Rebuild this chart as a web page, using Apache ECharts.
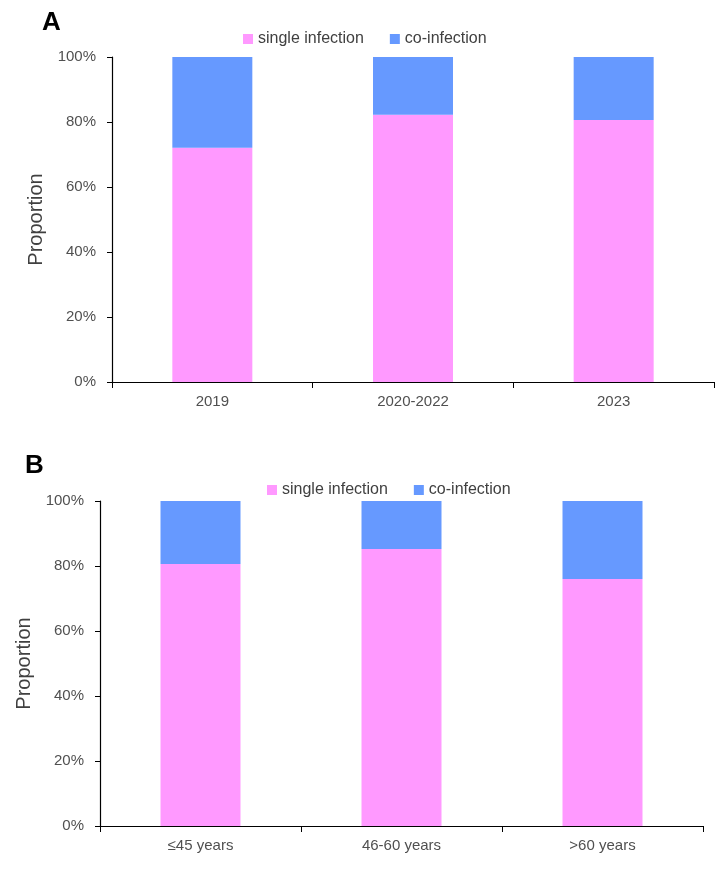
<!DOCTYPE html>
<html>
<head>
<meta charset="utf-8">
<script src="https://cdn.jsdelivr.net/npm/echarts@6/dist/echarts.min.js"></script>
<style>
    html, body { margin: 0; padding: 0; background: #fff; }
    #main { width: 720px; height: 870px; }
</style>
</head>
<body>
<div id="main"></div>
<script>
// panel A: by year
var years = ['2019', '2020-2022', '2023'];
var yearSingle = [72.1, 82.2, 80.6];
var yearCo = [27.9, 17.8, 19.4];

// panel B: by age group
var ages = ['≤45 years', '46-60 years', '>60 years'];
var ageSingle = [80.6, 85.2, 76.0];
var ageCo = [19.4, 14.8, 24.0];

var yTicks = [0, 20, 40, 60, 80, 100];

var pink = '#ff99ff';
var blue = '#6699ff';
var font = 'Liberation Sans';

var chart = (function () {
    var Return = {
        init: function () {
            var myChart = echarts.init(document.getElementById('main'));
            myChart.setOption(buildOption());
        }
    }
    var catAxis = function (idx, data) {
        return {
            type: 'category',
            gridIndex: idx,
            data: data,
            axisLine: { lineStyle: { color: '#000', width: 1.2 } },
            axisTick: { show: true, length: 6, lineStyle: { color: '#000' } },
            axisLabel: { color: '#505050', fontSize: 15, fontFamily: font, margin: 12 }
        };
    }
    var valAxis = function (idx) {
        return {
            type: 'value',
            gridIndex: idx,
            min: yTicks[0],
            max: yTicks[yTicks.length - 1],
            interval: yTicks[1] - yTicks[0],
            name: 'Proportion',
            nameLocation: 'middle',
            nameGap: 64,
            nameTextStyle: { color: '#404040', fontSize: 20, fontFamily: font },
            axisLine: { show: true, lineStyle: { color: '#000', width: 1.2 } },
            axisTick: { show: true, length: 5, lineStyle: { color: '#000' } },
            axisLabel: { color: '#505050', fontSize: 15, fontFamily: font, margin: 16,
                formatter: function (v) { return v + '%'; } },
            splitLine: { show: false }
        };
    }
    var bar = function (name, data, idx, color) {
        return {
            name: name,
            type: 'bar',
            stack: 'p' + idx,
            xAxisIndex: idx,
            yAxisIndex: idx,
            barWidth: 80,
            data: data,
            itemStyle: { color: color }
        };
    }
    var legend = function (left, top) {
        return {
            left: left,
            top: top,
            itemWidth: 10,
            itemHeight: 10,
            itemGap: 26,
            icon: 'rect',
            textStyle: { color: '#404040', fontSize: 16, fontFamily: font },
            data: ['single infection', 'co-infection']
        };
    }
    var buildOption = function () {
        return {
            animation: false,
            backgroundColor: '#fff',
            title: [
                { text: 'A', left: 37, top: 5, textStyle: { fontSize: 26, fontWeight: 'bold', color: '#000', fontFamily: font } },
                { text: 'B', left: 20, top: 448, textStyle: { fontSize: 26, fontWeight: 'bold', color: '#000', fontFamily: font } }
            ],
            legend: [legend(238, 26), legend(262, 477)],
            grid: [
                { left: 112, top: 57, right: 6, height: 325 },
                { left: 100, top: 501, right: 17, height: 325 }
            ],
            xAxis: [catAxis(0, years), catAxis(1, ages)],
            yAxis: [valAxis(0), valAxis(1)],
            series: [
                bar('single infection', yearSingle, 0, pink),
                bar('co-infection', yearCo, 0, blue),
                bar('single infection', ageSingle, 1, pink),
                bar('co-infection', ageCo, 1, blue)
            ]
        };
    }
    return Return;
})();

; (function () {
    chart.init();
})();
</script>
</body>
</html>
